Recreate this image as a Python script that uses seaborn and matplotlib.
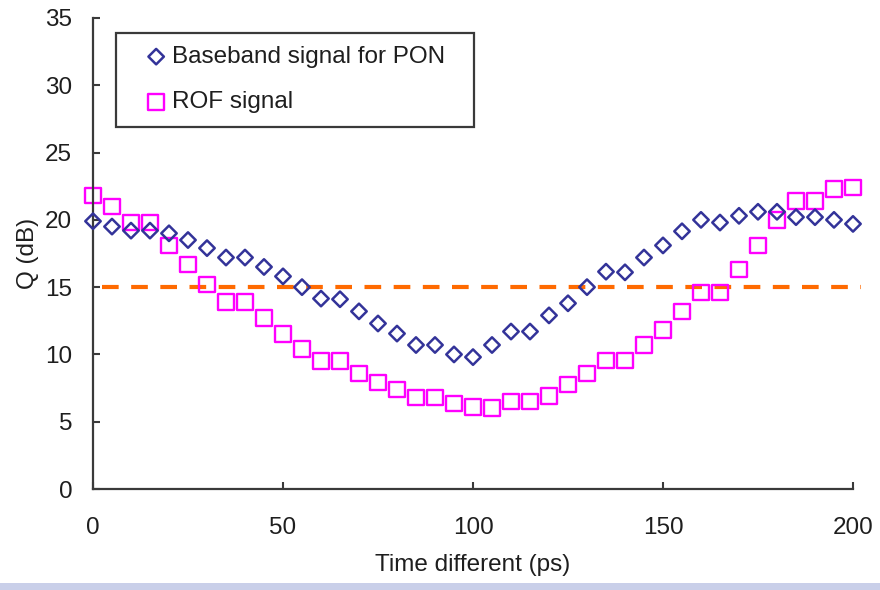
import matplotlib
matplotlib.use("Agg")
import matplotlib.pyplot as plt
from matplotlib.patches import Rectangle
import seaborn as sns
import pandas as pd

# ---- data ----
time_ps = [0, 5, 10, 15, 20, 25, 30, 35, 40, 45, 50, 55, 60, 65, 70, 75, 80, 85, 90, 95, 100,
           105, 110, 115, 120, 125, 130, 135, 140, 145, 150, 155, 160, 165, 170, 175, 180, 185,
           190, 195, 200]
baseband_q = [19.9, 19.5, 19.2, 19.2, 19.0, 18.5, 17.9, 17.2, 17.2, 16.5, 15.8, 15.0, 14.15,
              14.1, 13.2, 12.3, 11.55, 10.7, 10.7, 10.0, 9.8, 10.7, 11.7, 11.7, 12.9, 13.8,
              15.0, 16.15, 16.1, 17.2, 18.1, 19.15, 20.0, 19.8, 20.3, 20.6, 20.6, 20.2, 20.2,
              20.0, 19.7]
rof_q = [21.8, 21.0, 19.8, 19.8, 18.1, 16.7, 15.2, 13.9, 13.9, 12.7, 11.5, 10.4, 9.5, 9.5,
         8.6, 7.9, 7.4, 6.8, 6.8, 6.35, 6.1, 6.0, 6.5, 6.5, 6.9, 7.75, 8.6, 9.55, 9.55, 10.7,
         11.8, 13.2, 14.6, 14.6, 16.3, 18.1, 20.0, 21.4, 21.4, 22.3, 22.4]
threshold_q = 15
series_labels = ["Baseband signal for PON", "ROF signal"]
x_ticks = [0, 50, 100, 150, 200]
y_ticks = [0, 5, 10, 15, 20, 25, 30, 35]
x_label = "Time different (ps)"
y_label = "Q (dB)"

sns.set_style("white")
plt.rcParams["font.family"] = ["Liberation Sans", "DejaVu Sans"]
TXT = "#1e1e1e"
AX = "#3a3a3a"
FS = 17.5

df = pd.DataFrame({"t": time_ps, "base": baseband_q, "rof": rof_q})

fig = plt.figure(figsize=(8.8, 5.9), dpi=100)
ax = fig.add_axes([93 / 880, 1 - 489 / 590, 760 / 880, 471 / 590])

ax.plot([2.4, 202.2], [threshold_q, threshold_q], color="#FF6A00", lw=3.0,
        dashes=(4.0, 3.0), clip_on=False, zorder=1)

sns.scatterplot(data=df, x="t", y="base", marker="D", s=62, facecolor="none",
                edgecolor="#333399", linewidth=1.8, label=series_labels[0], ax=ax,
                zorder=3, clip_on=False)
sns.scatterplot(data=df, x="t", y="rof", marker="s", s=125, facecolor="none",
                edgecolor="#FF00FF", linewidth=1.7, label=series_labels[1], ax=ax,
                zorder=2, clip_on=False)

ax.set_xlim(0, 200)
ax.set_ylim(0, 35)
ax.set_xticks(x_ticks)
ax.set_yticks(y_ticks)
for s in ["top", "right"]:
    ax.spines[s].set_visible(False)
for s in ["left", "bottom"]:
    ax.spines[s].set_color(AX)
    ax.spines[s].set_linewidth(1.6)
ax.tick_params(axis="y", direction="in", length=5, width=1.5, color=AX,
               labelsize=FS, labelcolor=TXT, pad=15, left=True)
ax.tick_params(axis="x", direction="in", length=5, width=1.5, color=AX,
               labelsize=FS, labelcolor=TXT, pad=20, bottom=True)

ax.set_xlabel(x_label, fontsize=FS, color=TXT)
ax.set_ylabel(y_label, fontsize=FS, color=TXT)
ax.xaxis.set_label_coords(0.5, -0.139)
ax.yaxis.set_label_coords(-0.071, 0.5)

# legend box
ax.add_patch(Rectangle((23 / 760, (489 - 127) / 471), 358 / 760, 94 / 471,
                       transform=ax.transAxes, fill=False, edgecolor=AX, lw=1.6,
                       clip_on=False, zorder=4))
leg = ax.legend(loc="upper left", bbox_to_anchor=((144 - 93) / 760, (489 - 46) / 471),
                frameon=False, borderpad=0, borderaxespad=0, handlelength=1.0,
                handletextpad=0.15, labelspacing=0.95, fontsize=FS)
for t in leg.get_texts():
    t.set_color(TXT)

# light band at the bottom edge of the figure
fig.patches.append(Rectangle((0, 0), 1, 7 / 590, transform=fig.transFigure,
                             facecolor="#c9cfe9", edgecolor="none", zorder=0))

fig.savefig("out.png", dpi=100)
